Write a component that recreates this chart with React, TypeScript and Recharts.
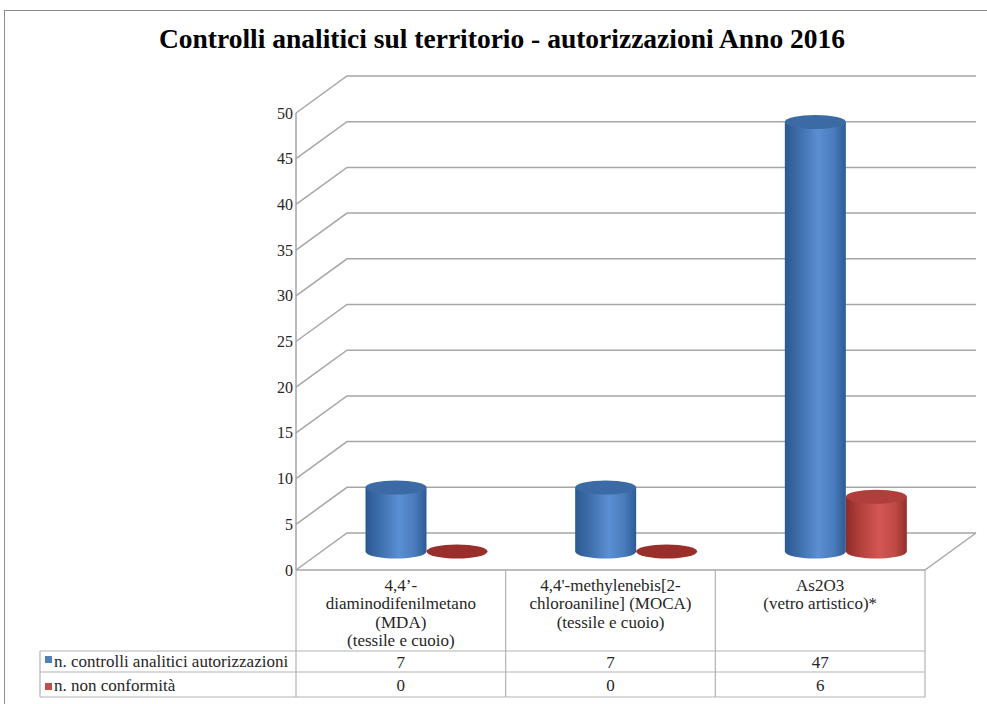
import React from "react";
import { BarChart, Bar, XAxis, YAxis, CartesianGrid } from "recharts";

const categoryLabels: string[][] = [
  ["4,4\u2019-", "diaminodifenilmetano", "(MDA)", "(tessile e cuoio)"],
  ["4,4'-methylenebis[2-", "chloroaniline] (MOCA)", "(tessile e cuoio)"],
  ["As2O3", "(vetro artistico)*"],
];
const categories = ["MDA", "MOCA", "As2O3"];
const controlli = [7, 7, 47];
const nonConformita = [0, 0, 6];
const seriesNames = ["n. controlli analitici autorizzazioni", "n. non conformit\u00e0"];
const yTicks = [0, 5, 10, 15, 20, 25, 30, 35, 40, 45, 50];
const title = "Controlli analitici sul territorio - autorizzazioni Anno 2016";

const data = categories.map((c, i) => ({
  name: c,
  controlli: controlli[i],
  nonConformita: nonConformita[i],
}));

const W = 987;
const H = 704;
const PLOT_L = 296;
const PLOT_R = 925;
const PLOT_T = 113;
const PLOT_B = 570;
const DX = 51;
const DY = -37;
const YAXIS_W = 40;
const XAXIS_H = 126;
const BAND = (PLOT_R - PLOT_L) / categories.length;
const ROW1 = 651;
const ROW2 = 672;
const ROW3 = 697;
const LEGEND_L = 40;
const GRID = "#a6a6a6";
const TABLE = "#b3b3b3";
const FONT = "'Liberation Serif', 'DejaVu Serif', serif";
const BLUE = "#4f81bd";
const RED = "#c0504d";
const TXT: React.CSSProperties = { fontFamily: FONT, fontSize: 17 };

const gridLine = (props: any) => {
  const { x1, y1, x2, y2 } = props;
  const isFloor = Math.abs(y1 - PLOT_B) < 1;
  return (
    <g key={`g-${y1}`}>
      <path
        d={`M${x1},${y1}L${x1 + DX},${y1 + DY}L${x2 + DX},${y2 + DY}`}
        stroke={GRID}
        strokeWidth={1.5}
        fill="none"
      />
      {isFloor && (
        <line x1={x2} y1={y2} x2={x2 + DX} y2={y2 + DY} stroke={GRID} strokeWidth={1.5} />
      )}
    </g>
  );
};

const makeCylinder = (gradId: string, topColor: string, flatColor: string) => (props: any) => {
  const { x, y, width, height } = props;
  const rx = width / 2;
  const ry = 7;
  const cx = x + rx + DX / 2;
  const top = y + DY / 2;
  const bottom = y + height + DY / 2;
  const x0 = cx - rx;
  const x1 = cx + rx;
  if (!height || height < 0.5) {
    return <ellipse cx={cx} cy={bottom} rx={rx} ry={ry} fill={flatColor} />;
  }
  return (
    <g>
      <path
        d={`M${x0},${top}L${x0},${bottom}A${rx},${ry} 0 0 0 ${x1},${bottom}L${x1},${top}Z`}
        fill={`url(#${gradId})`}
      />
      <ellipse cx={cx} cy={top} rx={rx} ry={ry} fill={topColor} />
    </g>
  );
};

const BlueCyl = makeCylinder("gBlue", "#3c6aa4", "#3c6aa4");
const RedCyl = makeCylinder("gRed", "#b03f3b", "#9a2e2b");

const T = (p: any) => (
  <text x={p.x} y={p.y} textAnchor={p.anchor || "start"} fill="#262626" style={TXT}>
    {p.children}
  </text>
);

const YTick = (props: any) => {
  const { x, y, payload } = props;
  return (
    <text x={x + 3} y={y + 5.5} textAnchor="end" fill="#262626" style={{ fontFamily: FONT, fontSize: 16 }}>
      {payload.value}
    </text>
  );
};

const TableColumn = (props: any) => {
  const { x, index } = props;
  const half = BAND / 2;
  const lines = categoryLabels[index] || [];
  const left = x - half;
  const right = x + half;
  return (
    <g>
      {lines.map((t: string, i: number) => (
        <T key={i} x={x} y={591 + i * 18.3} anchor="middle">
          {t}
        </T>
      ))}
      <T x={x} y={668} anchor="middle">{controlli[index]}</T>
      <T x={x} y={691} anchor="middle">{nonConformita[index]}</T>
      <line x1={right} y1={PLOT_B} x2={right} y2={ROW3} stroke={TABLE} strokeWidth={1.2} />
      <line x1={left} y1={ROW1} x2={right} y2={ROW1} stroke={TABLE} strokeWidth={1.2} />
      <line x1={left} y1={ROW2} x2={right} y2={ROW2} stroke={TABLE} strokeWidth={1.2} />
      <line x1={left} y1={ROW3} x2={right} y2={ROW3} stroke={TABLE} strokeWidth={1.2} />
      {index === 0 && (
        <g>
          <line x1={left} y1={PLOT_B} x2={left} y2={ROW3} stroke={TABLE} strokeWidth={1.2} />
          <line x1={LEGEND_L} y1={ROW1} x2={left} y2={ROW1} stroke={TABLE} strokeWidth={1.2} />
          <line x1={LEGEND_L} y1={ROW2} x2={left} y2={ROW2} stroke={TABLE} strokeWidth={1.2} />
          <line x1={LEGEND_L} y1={ROW3} x2={left} y2={ROW3} stroke={TABLE} strokeWidth={1.2} />
          <line x1={LEGEND_L} y1={ROW1} x2={LEGEND_L} y2={ROW3} stroke={TABLE} strokeWidth={1.2} />
          <rect x={45} y={656} width={7} height={7} fill={BLUE} />
          <T x={54} y={667}>{seriesNames[0]}</T>
          <rect x={45} y={683} width={7} height={7} fill={RED} />
          <T x={54} y={691}>{seriesNames[1]}</T>
        </g>
      )}
    </g>
  );
};

export default function App() {
  return (
    <div style={{ position: "absolute", left: 0, top: 0, width: W, height: H, background: "#fff", overflow: "hidden" }}>
      <div
        style={{
          position: "absolute",
          left: 4,
          top: 10,
          width: 1100,
          height: 800,
          border: "1.5px solid #8c8c8c",
          boxSizing: "border-box",
        }}
      />
      <div
        style={{
          position: "absolute",
          left: 0,
          top: 23,
          width: 1004,
          textAlign: "center",
          fontFamily: FONT,
          fontWeight: "bold",
          fontSize: 27.5,
          color: "#000",
          lineHeight: "32px",
        }}
      >
        {title}
      </div>
      <div style={{ position: "absolute", left: 0, top: 0 }}>
        <BarChart
          width={W}
          height={H}
          data={data}
          margin={{ top: PLOT_T, right: W - PLOT_R, left: PLOT_L - YAXIS_W, bottom: H - PLOT_B - XAXIS_H }}
          barGap={0}
          barSize={61}
        >
          <defs>
            <linearGradient id="gBlue" x1="0" y1="0" x2="1" y2="0">
              <stop offset="0%" stopColor="#2b5890" />
              <stop offset="25%" stopColor="#3f70ad" />
              <stop offset="55%" stopColor="#5a8fd3" />
              <stop offset="80%" stopColor="#4a7cbd" />
              <stop offset="100%" stopColor="#2d5b94" />
            </linearGradient>
            <linearGradient id="gRed" x1="0" y1="0" x2="1" y2="0">
              <stop offset="0%" stopColor="#8e2b29" />
              <stop offset="25%" stopColor="#b5413e" />
              <stop offset="55%" stopColor="#d25753" />
              <stop offset="80%" stopColor="#c04a47" />
              <stop offset="100%" stopColor="#932f2c" />
            </linearGradient>
          </defs>
          <CartesianGrid horizontal={gridLine} vertical={false} />
          <YAxis
            width={YAXIS_W}
            domain={[0, 50]}
            ticks={yTicks}
            interval={0}
            axisLine={{ stroke: GRID, strokeWidth: 1.5 }}
            tickLine={false}
            tickSize={4}
            tick={<YTick />}
          />
          <XAxis
            dataKey="name"
            height={XAXIS_H}
            axisLine={{ stroke: GRID, strokeWidth: 1.5 }}
            tickLine={false}
            interval={0}
            tick={<TableColumn />}
          />
          <Bar dataKey="controlli" name={seriesNames[0]} fill={BLUE} shape={BlueCyl} isAnimationActive={false} />
          <Bar dataKey="nonConformita" name={seriesNames[1]} fill={RED} shape={RedCyl} isAnimationActive={false} />
        </BarChart>
      </div>
    </div>
  );
}
